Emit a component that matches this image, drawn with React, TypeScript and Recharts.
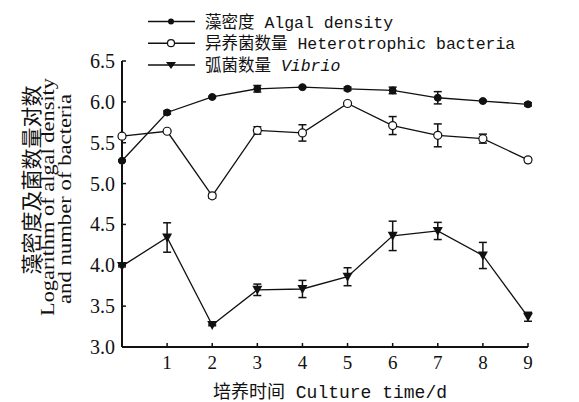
import React from "react";
import { LineChart, Line, XAxis, YAxis, ErrorBar } from "recharts";

const days = [0, 1, 2, 3, 4, 5, 6, 7, 8, 9];
const algal = [5.28, 5.87, 6.06, 6.16, 6.18, 6.16, 6.14, 6.05, 6.01, 5.97];
const algalErr = [0.01, 0.02, 0.01, 0.04, 0.01, 0.02, 0.04, 0.075, 0.01, 0.02];
const hetero = [5.58, 5.64, 4.85, 5.65, 5.62, 5.98, 5.71, 5.59, 5.55, 5.29];
const heteroErr = [0.02, 0.01, 0.03, 0.045, 0.1, 0.01, 0.11, 0.14, 0.055, 0.02];
const vibrio = [3.99, 4.34, 3.27, 3.7, 3.71, 3.86, 4.36, 4.42, 4.12, 3.37];
const vibrioErr = [0.01, 0.18, 0.01, 0.07, 0.105, 0.11, 0.18, 0.105, 0.16, 0.055];
const xTicks = [1, 2, 3, 4, 5, 6, 7, 8, 9];
const yTicks = [3.0, 3.5, 4.0, 4.5, 5.0, 5.5, 6.0, 6.5];

const data = days.map((d, i) => ({
  day: d,
  algal: algal[i],
  algalErr: algalErr[i],
  hetero: hetero[i],
  heteroErr: heteroErr[i],
  vibrio: vibrio[i],
  vibrioErr: vibrioErr[i],
}));

const INK = "#111";
const mono = "'Liberation Mono', 'Noto Sans CJK SC', monospace";
const serif = "'Liberation Serif', 'Noto Sans CJK SC', serif";

// ticks drawn by hand so they point into the plot
const XTick = (props: any) => {
  const { x, y, payload } = props;
  return (
    <g>
      <line x1={x} y1={y} x2={x} y2={y - 4} stroke={INK} strokeWidth={1.5} />
      <text x={x} y={y + 22} textAnchor="middle" fontFamily={serif} fontSize={19} fill={INK}>
        {payload.value}
      </text>
    </g>
  );
};

const YTick = (props: any) => {
  const { x, y, payload } = props;
  return (
    <g>
      <line x1={x} y1={y} x2={x + 4} y2={y} stroke={INK} strokeWidth={1.5} />
      <text x={x - 7} y={y + 7} textAnchor="end" fontFamily={serif} fontSize={20} fill={INK}>
        {Number(payload.value).toFixed(1)}
      </text>
    </g>
  );
};

const FilledDot = (props: any) => {
  const { cx, cy } = props;
  if (cx == null || cy == null) return null;
  return <circle cx={cx} cy={cy} r={3.5} fill={INK} stroke={INK} />;
};

const OpenDot = (props: any) => {
  const { cx, cy } = props;
  if (cx == null || cy == null) return null;
  return <circle cx={cx} cy={cy} r={4} fill="#fff" stroke={INK} strokeWidth={1.2} />;
};

const TriDot = (props: any) => {
  const { cx, cy } = props;
  if (cx == null || cy == null) return null;
  return <path d={`M${cx - 5},${cy - 4} L${cx + 5},${cy - 4} L${cx},${cy + 5} Z`} fill={INK} />;
};

const legendRows = [
  { cn: "藻密度", en: "Algal density", italic: false, mark: "filled" },
  { cn: "异养菌数量", en: "Heterotrophic bacteria", italic: false, mark: "open" },
  { cn: "弧菌数量", en: "Vibrio", italic: true, mark: "tri" },
];

const Overlay = () => (
  <svg width={579} height={402} style={{ position: "absolute", left: 0, top: 0, pointerEvents: "none" }}>
    {legendRows.map((r, i) => {
      const y = 21.5 + i * 21.7;
      return (
        <g key={i}>
          <line x1={148} y1={y} x2={195} y2={y} stroke={INK} strokeWidth={1.5} />
          {r.mark === "filled" && <circle cx={171} cy={y} r={3} fill={INK} />}
          {r.mark === "open" && <circle cx={171} cy={y} r={3.5} fill="#fff" stroke={INK} strokeWidth={1.2} />}
          {r.mark === "tri" && <path d={`M${166},${y - 3} L${176},${y - 3} L${171},${y + 4} Z`} fill={INK} />}
          <text x={205} y={y + 6} fontFamily={mono} fontSize={16.5} fill={INK}>
            {r.cn + " "}
            <tspan fontStyle={r.italic ? "italic" : "normal"}>{r.en}</tspan>
          </text>
        </g>
      );
    })}
    <text x={330} y={398} textAnchor="middle" fontFamily={mono} fontSize={18} fill={INK}>
      培养时间 Culture time/d
    </text>
    <text transform="translate(39,180) rotate(-90)" textAnchor="middle" fontFamily="'Noto Sans CJK SC'" fontSize={21} fill={INK}>
      藻密度及菌数量对数
    </text>
    <text transform="translate(54,197) rotate(-90)" textAnchor="middle" fontFamily={serif} fontSize={18} textLength={238} lengthAdjust="spacingAndGlyphs" fill={INK}>
      Logarithm of algal density
    </text>
    <text transform="translate(71,199) rotate(-90)" textAnchor="middle" fontFamily={serif} fontSize={18} textLength={210} lengthAdjust="spacingAndGlyphs" fill={INK}>
      and number of bacteria
    </text>
  </svg>
);

const App: React.FC = () => {
  return (
    <div style={{ position: "absolute", left: 0, top: 0, width: 579, height: 402, background: "#fff" }}>
      <LineChart width={579} height={402} data={data} margin={{ top: 61, right: 51, bottom: 0, left: 0 }}>
        <XAxis
          dataKey="day"
          type="number"
          domain={[0, 9]}
          ticks={xTicks}
          tick={<XTick />}
          tickLine={false}
          tickSize={0}
          tickMargin={0}
          height={55}
          axisLine={{ stroke: INK, strokeWidth: 2 }}
        />
        <YAxis
          type="number"
          domain={[3, 6.5]}
          ticks={yTicks}
          tick={<YTick />}
          tickLine={false}
          tickSize={0}
          tickMargin={0}
          width={122}
          axisLine={{ stroke: INK, strokeWidth: 2 }}
        />
        <Line dataKey="algal" stroke={INK} strokeWidth={1.3} dot={<FilledDot />} isAnimationActive={false}>
          <ErrorBar dataKey="algalErr" width={4} stroke={INK} strokeWidth={1.5} direction="y" />
        </Line>
        <Line dataKey="hetero" stroke={INK} strokeWidth={1.3} dot={<OpenDot />} isAnimationActive={false}>
          <ErrorBar dataKey="heteroErr" width={4} stroke={INK} strokeWidth={1.5} direction="y" />
        </Line>
        <Line dataKey="vibrio" stroke={INK} strokeWidth={1.3} dot={<TriDot />} isAnimationActive={false}>
          <ErrorBar dataKey="vibrioErr" width={4} stroke={INK} strokeWidth={1.5} direction="y" />
        </Line>
      </LineChart>
      <Overlay />
    </div>
  );
};

export default App;
